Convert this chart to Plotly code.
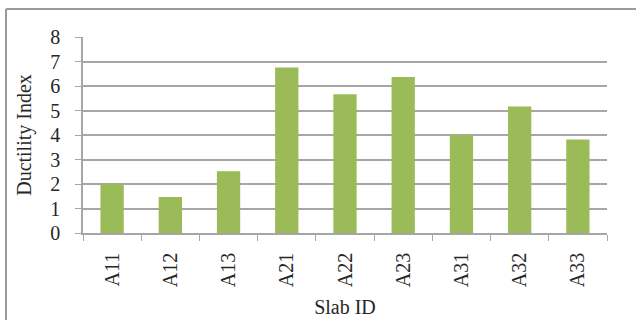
import plotly.graph_objects as go

slab_ids = ["A11", "A12", "A13", "A21", "A22", "A23", "A31", "A32", "A33"]
ductility = [2.0, 1.47, 2.52, 6.76, 5.66, 6.37, 4.0, 5.16, 3.82]
y_ticks = [0, 1, 2, 3, 4, 5, 6, 7, 8]

FONT = "Liberation Serif"
GRID = "#a6a6a6"

fig = go.Figure(
    go.Bar(x=slab_ids, y=ductility, marker=dict(color="#9bbb59", line=dict(width=0)))
)

fig.update_layout(
    width=636,
    height=320,
    margin=dict(l=83, r=29, t=37, b=87),
    paper_bgcolor="white",
    plot_bgcolor="white",
    bargap=0.6,
    showlegend=False,
    font=dict(family=FONT, size=20, color="#262626"),
)

fig.update_xaxes(
    type="category",
    automargin=False,
    tickangle=-90,
    ticks="outside",
    tickson="boundaries",
    ticklen=6,
    tickcolor=GRID,
    showline=True,
    linecolor=GRID,
    linewidth=1.5,
    showgrid=False,
    ticklabelstandoff=10,
    title=dict(text="Slab ID", font=dict(family=FONT, size=20), standoff=14),
)

fig.update_yaxes(
    range=[0, 8],
    automargin=False,
    tickvals=y_ticks,
    ticks="outside",
    ticklen=6,
    tickcolor=GRID,
    showline=True,
    linecolor=GRID,
    linewidth=1.5,
    showgrid=True,
    gridcolor=GRID,
    gridwidth=1.5,
    zeroline=False,
    ticklabelstandoff=11,
    title=dict(text="Ductility Index", font=dict(family=FONT, size=20), standoff=13),
)

# Chart frame: top and left edges of the surrounding border
fig.add_shape(type="line", xref="paper", yref="paper",
              x0=(6 - 83) / 524, x1=(640 - 83) / 524,
              y0=1 + (37 - 9) / 196, y1=1 + (37 - 9) / 196,
              line=dict(color="#9a9a9a", width=2))
fig.add_shape(type="line", xref="paper", yref="paper",
              x0=(6 - 83) / 524, x1=(6 - 83) / 524,
              y0=1 + (37 - 9) / 196, y1=-(330 - 233) / 196,
              line=dict(color="#9a9a9a", width=2))

fig.write_html("out.html")
